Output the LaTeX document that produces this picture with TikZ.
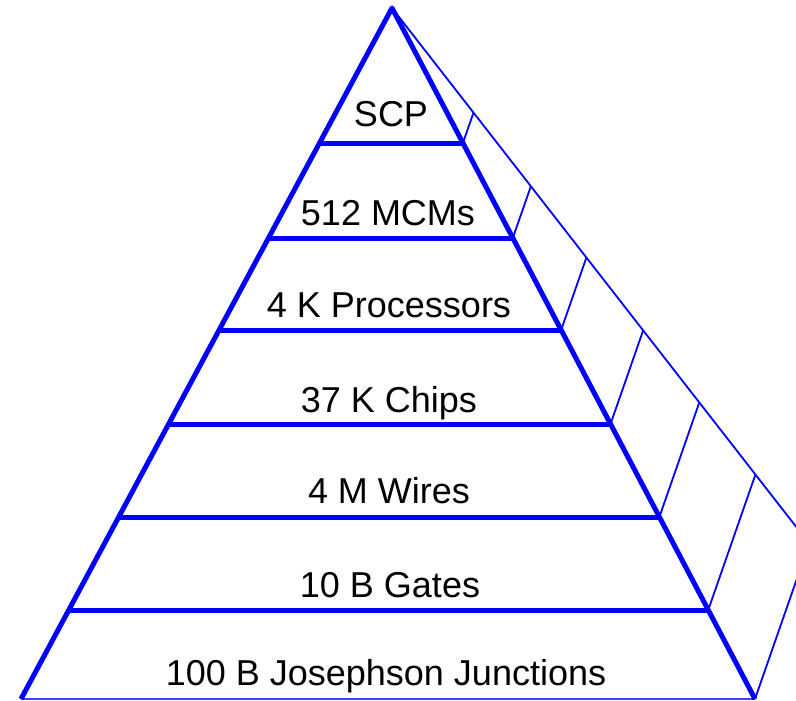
\documentclass[tikz,border=0pt]{standalone}
\usepackage{fontspec}
\setmainfont{Liberation Sans}
\begin{document}
\begin{tikzpicture}[x=1pt,y=-1pt,
  edge/.style={draw=blue,line width=5pt,line join=round},
  level/.style={draw=blue,line width=5pt},
  back/.style={draw=blue,line width=1.8pt},
  baseline/.style={draw=blue!75,line width=1.5pt},
  lbl/.style={anchor=base,inner sep=0pt,font=\fontsize{36}{40}\selectfont}]
\useasboundingbox (0,0) rectangle (796,701);
\clip (0,0) rectangle (796,701);
% main corners
\coordinate (A) at (392,8);
\coordinate (BL) at (21,699);
\coordinate (BR) at (755,699);
% level lines (left / right ends)
\foreach \n/\y in {1/143,2/238,3/330,4/424,5/517,6/610,7/699}{
  \pgfmathsetmacro{\xl}{392-(371/691)*(\y-8)}
  \pgfmathsetmacro{\xr}{392+(363/691)*(\y-8)}
  \pgfmathsetmacro{\yo}{8+0.775*(\y-8)}
  \pgfmathsetmacro{\xo}{392+0.779*(\yo-8)}
  \coordinate (L\n) at (\xl,\y);
  \coordinate (R\n) at (\xr,\y);
  \coordinate (O\n) at (\xo,\yo);
}
% back edge and connectors
\draw[back] (A) -- (O7);
\foreach \n in {1,...,7}{\draw[back] (R\n) -- (O\n);}
% level lines
\foreach \n in {1,...,6}{\draw[level] (L\n) -- (R\n);}
\draw[baseline] (L7) -- (R7);
% pyramid edges
\draw[edge] (BL) -- (A) -- (BR);
% labels
\node[lbl] (t1) at (391,127) {SCP};
\node[lbl] (t2) at (388,225) {512 MCMs};
\node[lbl] (t3) at (389,317) {4 K Processors};
\node[lbl] (t4) at (389,412) {37 K Chips};
\node[lbl] (t5) at (389,503) {4 M Wires};
\node[lbl] (t6) at (390,597) {10 B Gates};
\node[lbl] (t7) at (386,685) {100 B Josephson Junctions};
\end{tikzpicture}
\end{document}
